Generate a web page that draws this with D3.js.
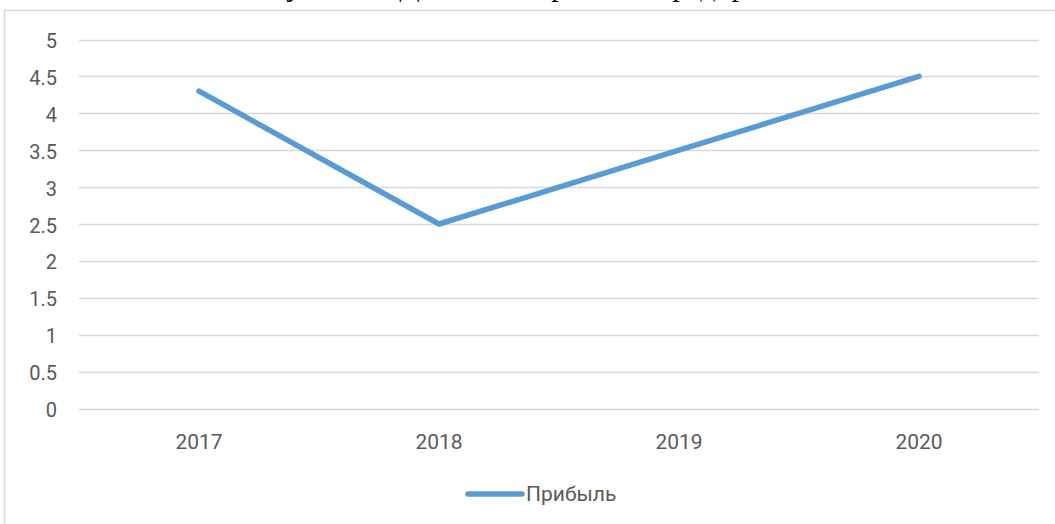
<!DOCTYPE html>
<html>
<head>
<meta charset="utf-8">
<script src="https://cdn.jsdelivr.net/npm/d3@7"></script>
<style>
  html, body { margin: 0; padding: 0; background: #fff; overflow: hidden; }
  svg { display: block; }
</style>
</head>
<body>
<div id="chart"></div>
<script>
const years = ["2017", "2018", "2019", "2020"];
const profit = [4.3, 2.5, 3.5, 4.5];
const yTicks = [0, 0.5, 1, 1.5, 2, 2.5, 3, 3.5, 4, 4.5, 5];
const seriesName = "Прибыль";
const captionText = "Рисунок 2 – Динамика прибыли предприятия";

const width = 1055;
const height = 524;
const margin = { top: 39.5, right: 16, bottom: 115.5, left: 79 };

const svg = d3.select("#chart").append("svg")
  .attr("width", width)
  .attr("height", height);

// caption of the document page, cut off at the top edge (only descenders show)
svg.append("text")
  .attr("x", 530)
  .attr("y", -4)
  .attr("text-anchor", "middle")
  .attr("font-family", "Liberation Serif")
  .attr("font-size", 30)
  .attr("fill", "#000")
  .text(captionText);

// chart frame (runs past the right and bottom edges)
svg.append("rect")
  .attr("x", 4.5)
  .attr("y", 10.5)
  .attr("width", width + 20)
  .attr("height", height + 20)
  .attr("fill", "none")
  .attr("stroke", "#d9d9d9")
  .attr("stroke-width", 1.5);

const x = d3.scaleBand()
  .domain(years)
  .range([margin.left, width - margin.right]);

const y = d3.scaleLinear()
  .domain([0, 5])
  .range([height - margin.bottom, margin.top]);

const font = "Roboto, 'Open Sans', sans-serif";

// gridlines
svg.append("g")
  .selectAll("line")
  .data(yTicks)
  .enter()
  .append("line")
  .attr("x1", margin.left)
  .attr("x2", width - margin.right)
  .attr("y1", d => Math.round(y(d)) + 0.5)
  .attr("y2", d => Math.round(y(d)) + 0.5)
  .attr("stroke", "#d9d9d9")
  .attr("stroke-width", 1.3);

// y labels
svg.append("g")
  .selectAll("text")
  .data(yTicks)
  .enter()
  .append("text")
  .attr("x", 57)
  .attr("y", d => y(d) + 1.5)
  .attr("dy", "0.35em")
  .attr("text-anchor", "end")
  .attr("font-family", font)
  .attr("font-size", 20)
  .attr("fill", "#595959")
  .text(d => d);

// x labels
svg.append("g")
  .selectAll("text")
  .data(years)
  .enter()
  .append("text")
  .attr("x", d => x(d) + x.bandwidth() / 2)
  .attr("y", 449)
  .attr("text-anchor", "middle")
  .attr("font-family", font)
  .attr("font-size", 21)
  .attr("fill", "#595959")
  .text(d => d);

const line = d3.line()
  .x((d, i) => x(years[i]) + x.bandwidth() / 2)
  .y(d => y(d));

svg.append("path")
  .datum(profit)
  .attr("d", line)
  .attr("fill", "none")
  .attr("stroke", "#5b9bd5")
  .attr("stroke-width", 5.5)
  .attr("stroke-linejoin", "round")
  .attr("stroke-linecap", "round");

// legend
const legend = svg.append("g").attr("transform", "translate(468,494)");
legend.append("line")
  .attr("x1", 0)
  .attr("x2", 54)
  .attr("stroke", "#5b9bd5")
  .attr("stroke-width", 5.5)
  .attr("stroke-linecap", "round");
legend.append("text")
  .attr("x", 58)
  .attr("y", 0)
  .attr("dy", "0.35em")
  .attr("font-family", font)
  .attr("font-size", 21)
  .attr("fill", "#595959")
  .text(seriesName);
</script>
</body>
</html>
